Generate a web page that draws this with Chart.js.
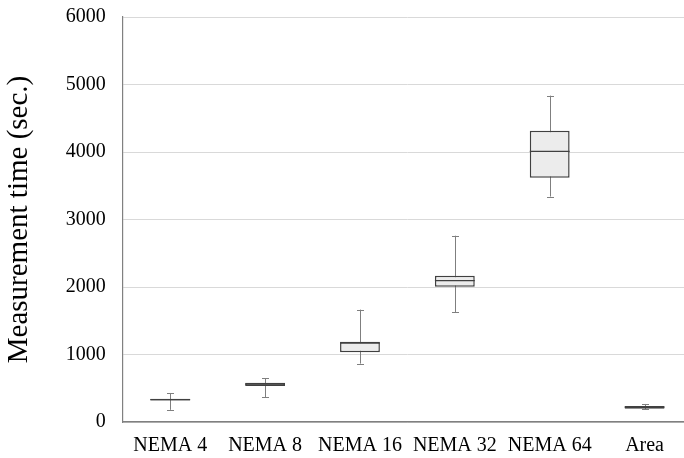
<!DOCTYPE html>
<html>
<head>
<meta charset="utf-8">
<script src="https://cdn.jsdelivr.net/npm/chart.js@4"></script>
<style>
  html, body { margin: 0; padding: 0; background: #fff; overflow: hidden; }
  #wrap { width: 692px; height: 470px; margin-top: -12px; }
</style>
</head>
<body>
<div id="wrap"><canvas id="box"></canvas></div>
<script>
// box plot values (sec.)
const categories = ["NEMA 4", "NEMA 8", "NEMA 16", "NEMA 32", "NEMA 64", "Area"];
const minValues = [180, 370, 865, 1630, 3340, 190];
const q1Values = [320, 535, 1035, 2005, 3620, 197];
const medianValues = [332, 560, 1170, 2095, 4010, 220];
const q3Values = [345, 580, 1190, 2165, 4315, 237];
const maxValues = [430, 647, 1665, 2760, 4835, 267];
const yTicks = [0, 1000, 2000, 3000, 4000, 5000, 6000];

const serif = "'Liberation Serif', 'Times New Roman', serif";

// whiskers under the boxes, medians on top
const whiskers = {
  id: "whiskers",
  beforeDatasetsDraw(chart) {
    const ctx = chart.ctx;
    const y = chart.scales.y;
    const meta = chart.getDatasetMeta(0);
    ctx.save();
    ctx.strokeStyle = "#7f7f7f";
    ctx.lineWidth = 1;
    meta.data.forEach((bar, i) => {
      const x = Math.round(bar.x) + 0.5;
      const top = y.getPixelForValue(maxValues[i]);
      const bot = y.getPixelForValue(minValues[i]);
      ctx.beginPath();
      ctx.moveTo(x, top);
      ctx.lineTo(x, bot);
      ctx.moveTo(x - 3.5, Math.round(top) + 0.5);
      ctx.lineTo(x + 3.5, Math.round(top) + 0.5);
      ctx.moveTo(x - 3.5, Math.round(bot) + 0.5);
      ctx.lineTo(x + 3.5, Math.round(bot) + 0.5);
      ctx.stroke();
    });
    ctx.restore();
  },
  afterDatasetsDraw(chart) {
    const ctx = chart.ctx;
    const y = chart.scales.y;
    const meta = chart.getDatasetMeta(0);
    ctx.save();
    ctx.strokeStyle = "#404040";
    ctx.lineWidth = 1.2;
    meta.data.forEach((bar, i) => {
      const my = y.getPixelForValue(medianValues[i]);
      ctx.beginPath();
      ctx.moveTo(bar.x - bar.width / 2, my);
      ctx.lineTo(bar.x + bar.width / 2, my);
      ctx.stroke();
    });
    ctx.restore();
  }
};

new Chart(document.getElementById("box"), {
  type: "bar",
  data: {
    labels: categories,
    datasets: [{
      label: "Measurement time",
      data: categories.map((c, i) => [q1Values[i], q3Values[i]]),
      backgroundColor: "#ececec",
      borderColor: "#404040",
      borderWidth: 1.5,
      borderSkipped: false,
      barPercentage: 0.42,
      categoryPercentage: 1
    }]
  },
  options: {
    responsive: true,
    maintainAspectRatio: false,
    animation: false,
    layout: { padding: { top: -1, right: 0, bottom: -12, left: 2 } },
    plugins: {
      legend: { display: false },
      tooltip: { enabled: false }
    },
    scales: {
      x: {
        grid: { display: false, drawTicks: false },
        border: { color: "#808080", width: 1.5 },
        ticks: {
          color: "#000",
          font: { family: serif, size: 20 },
          padding: 12,
          maxRotation: 0,
          autoSkip: false
        }
      },
      y: {
        min: 0,
        max: 6000,
        afterBuildTicks: (axis) => { axis.ticks = yTicks.map(v => ({ value: v })); },
        grid: { color: "#d9d9d9", lineWidth: 1, drawTicks: false },
        border: { color: "#808080", width: 1.2 },
        ticks: {
          color: "#000",
          font: { family: serif, size: 20 },
          padding: 17,
          callback: (v) => String(v)
        },
        title: {
          display: true,
          text: "Measurement time (sec.)",
          color: "#000",
          font: { family: serif, size: 29 },
          padding: { top: 0, bottom: 12 }
        }
      }
    }
  },
  plugins: [whiskers]
});
</script>
</body>
</html>
